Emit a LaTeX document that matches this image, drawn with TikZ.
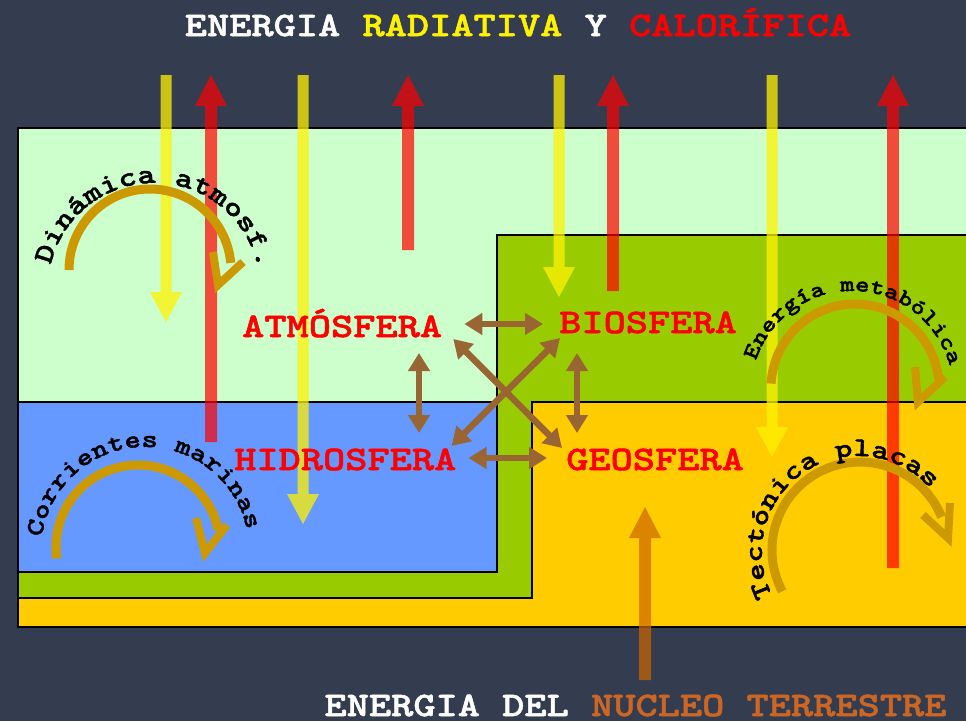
\documentclass[tikz,border=0pt]{standalone}
\usepackage{fontspec}
\newfontfamily\cour{lmmonolt10-bold.otf}[FakeStretch=1.23, FakeBold=1.5]
\usetikzlibrary{arrows.meta,decorations.text}
\definecolor{bg}{HTML}{343D50}
\definecolor{lgreen}{HTML}{CCFFCC}
\definecolor{bgreen}{HTML}{99CC00}
\definecolor{gyellow}{HTML}{FFCC00}
\definecolor{hblue}{HTML}{6699FF}
\definecolor{brownarr}{HTML}{996633}
\definecolor{gold}{HTML}{CC9900}
\definecolor{nucleo}{HTML}{CC6622}
\definecolor{nucarr}{HTML}{CC6600}
\newcommand\myDownArrow[3]{%
  \fill[yellow, fill opacity=0.75] (#1-5.5,-#2) -- (#1-5.5,-#3+30) -- (#1-16,-#3+30) -- (#1,-#3) -- (#1+16,-#3+30) -- (#1+5.5,-#3+30) -- (#1+5.5,-#2) -- cycle;}
\newcommand\myUpArrow[4]{%
  \fill[#1] (#2-6,-#4) -- (#2-6,-#3-31) -- (#2-16,-#3-31) -- (#2,-#3) -- (#2+16,-#3-31) -- (#2+6,-#3-31) -- (#2+6,-#4) -- cycle;}
\tikzset{
  lbl/.style={font=\cour\fontsize{34.4}{38}\selectfont, inner sep=0pt},
  sph/.style={lbl, text=red, anchor=base west},
  link/.style={draw=brownarr, line width=6.5pt, arrows={Triangle[length=18pt,width=21pt]-Triangle[length=18pt,width=21pt]}},
  cyc/.style={draw=gold, line width=9pt},
  cychead/.style={draw=gold, line width=8pt, line join=miter},
  redarr/.style={fill=red, fill opacity=0.7},
  nucarrow/.style={fill=nucarr, fill opacity=0.7},
  panel/.style={draw=black, line width=1.3pt},
}
\begin{document}
\begin{tikzpicture}[x=1pt,y=1pt]
\useasboundingbox (0,0) rectangle (966,-721);
\fill[bg] (0,0) rectangle (966,-721);
% panels
\draw[panel, line width=2pt, fill=lgreen] (18,-128) rectangle (975,-627);
\draw[panel, fill=bgreen] (497,-235) -- (975,-235) -- (975,-598) -- (18,-598) -- (18,-402) -- (497,-402) -- cycle;
\draw[panel, fill=gyellow] (532,-402) -- (975,-402) -- (975,-627) -- (18,-627) -- (18,-598) -- (532,-598) -- cycle;
\draw[panel, fill=hblue] (18,-402) rectangle (497,-572);
\draw[panel, line width=2pt] (18,-128) rectangle (975,-627);
% energy arrows
\myDownArrow{166}{75}{322}
\myDownArrow{303}{75}{524}
\myDownArrow{559}{75}{297}
\myDownArrow{772}{75}{457}
\myUpArrow{redarr}{211}{75}{442}
\myUpArrow{redarr}{408}{75}{250}
\myUpArrow{redarr}{613}{75}{291}
\myUpArrow{redarr}{893}{75}{568}
\myUpArrow{nucarrow}{645}{507}{680}
% titles
\node[lbl, anchor=base, text=white] (title) at (518,-36) {ENERGIA \textcolor{yellow}{RADIATIVA} Y \textcolor{red}{CALORÍFICA}};
\node[lbl, anchor=base, text=white] (core) at (635.5,-716) {ENERGIA DEL \textcolor{nucleo}{NUCLEO TERRESTRE}};
% spheres
\node[sph] (atm) at (242,-337) {ATMÓSFERA};
\node[sph] (bio) at (559,-333) {BIOSFERA};
\node[sph] (hid) at (234,-470) {HIDROSFERA};
\node[sph] (geo) at (566,-470) {GEOSFERA};
% links
\draw[link] ([shift={(22,13)}]atm.base east) -- ([shift={(-16,9)}]bio.base west);
\draw[link] ([shift={(177,-16)}]atm.base west) -- ([shift={(185,37)}]hid.base west);
\draw[link] ([shift={(18,-20)}]bio.base west) -- ([shift={(11,37)}]geo.base west);
\draw[link] ([shift={(12,12)}]hid.base east) -- ([shift={(-19,12)}]geo.base west);
\draw[link] ([shift={(11,-2)}]atm.base east) -- ([shift={(-4,22)}]geo.base west);
\draw[link] ([shift={(1,-5)}]bio.base west) -- ([shift={(-5,24)}]hid.base east);
% cycles
\draw[cyc] ([shift={(180:81pt)}]150,-270) arc[start angle=180, end angle=5, radius=81pt];
\draw[cychead] (213,-252) -- (218,-285) -- (243,-262);
\draw[cyc] ([shift={(188:82pt)}]138,-547) arc[start angle=188, end angle=12, radius=82pt];
\draw[cychead] (196,-518) -- (205,-553) -- (227,-525);
\draw[cyc] ([shift={(177:84pt)}]855,-388) arc[start angle=177, end angle=6, radius=84pt];
\draw[cychead] (915,-367) -- (918,-402) -- (945,-377);
\draw[cyc] ([shift={(208:88pt)}]860,-550) arc[start angle=208, end angle=22, radius=88pt];
\draw[cychead] (923,-515) -- (948,-538) -- (950,-503);
% curved texts
\path[decorate, decoration={text along path, text align=center, text={|\cour\fontsize{27.9}{30}\selectfont|Dinámica atmosf.}}]
  ([shift={(179:106pt)}]154,-289) arc[start angle=179, end angle=-1, radius=106pt];
\path[decorate, decoration={text along path, text align=center, text={|\cour\fontsize{25.1}{27}\selectfont|Corrientes marinas}}]
  ([shift={(182:104pt)}]145,-551) arc[start angle=182, end angle=2, radius=104pt];
\path[decorate, decoration={text along path, text align=center, text={|\cour\fontsize{22.3}{24}\selectfont|Energía metabólica}}]
  ([shift={(178.5:101pt)}]852,-392) arc[start angle=178.5, end angle=-1.5, radius=101pt];
\path[decorate, decoration={text along path, text align=center, text={|\cour\fontsize{26.9}{29}\selectfont|Tectónica placas}}]
  ([shift={(214:96pt)}]858,-552) arc[start angle=214, end angle=34, radius=96pt];
\end{tikzpicture}
\end{document}
